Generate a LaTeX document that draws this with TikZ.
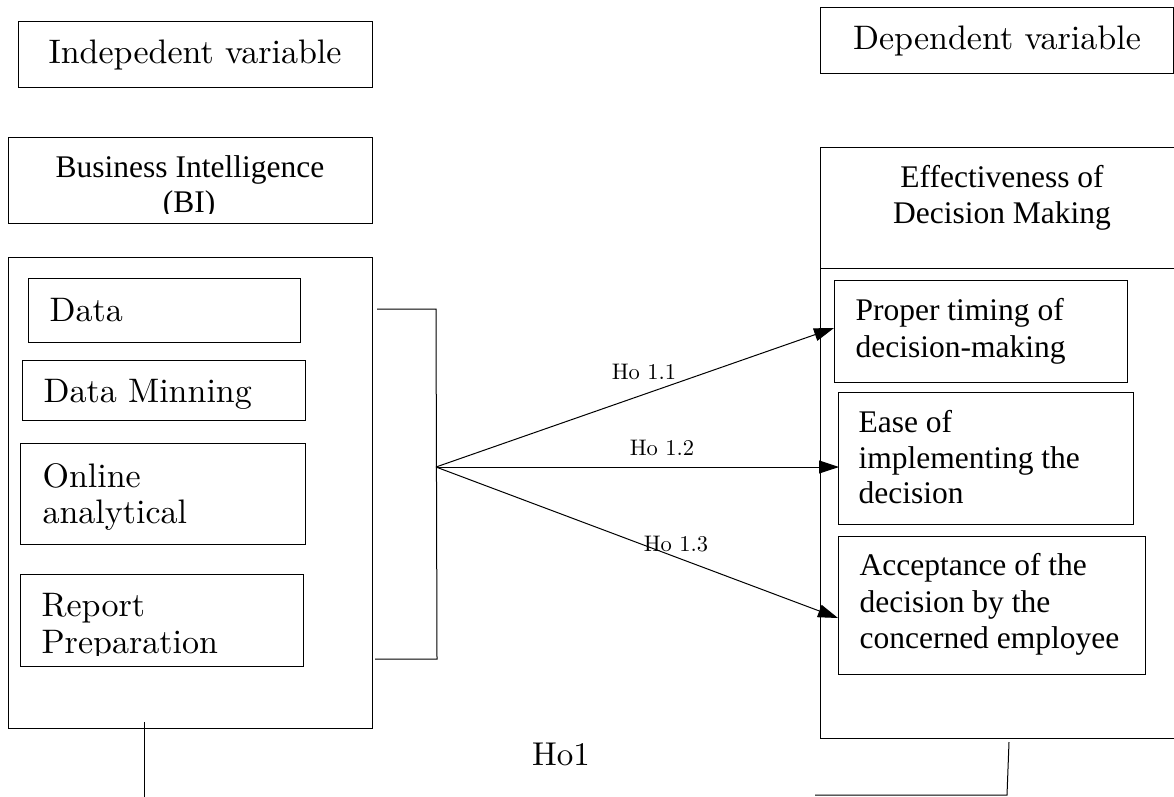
\documentclass[tikz,border=0pt]{standalone}
\usepackage{fontspec}
\newfontfamily\tms{Liberation Serif}
\newfontfamily\cen{lmroman10-regular.otf}
\usetikzlibrary{arrows.meta}
\begin{document}
\begin{tikzpicture}[x=1pt,y=-1pt, line width=1.1pt,
  box/.style={draw, inner sep=0pt, anchor=north west},
  cent/.style={font=\cen\fontsize{34}{35}\selectfont, inner sep=0pt},
  tim/.style={font=\tms\fontsize{31.5}{36}\selectfont, inner sep=0pt},
  lab/.style={font=\cen\fontsize{22.5}{24}\selectfont, inner sep=0pt},
  arr/.style={-{Triangle[length=20pt,width=13pt]}, line width=1pt},
  conn/.style={line width=1pt}]
\useasboundingbox (0,0) rectangle (1174,796);
% ---------- left side ----------
\node[box, minimum width=354pt, minimum height=66pt] (indep) at (18,21) {};
\node[cent, anchor=base] (indeptxt) at (195,63) {Indepedent variable};

\node[box, minimum width=364pt, minimum height=86pt] (bi) at (8,137) {};
\node[tim, anchor=base] (bitxt) at (190,177) {Business Intelligence};
\begin{scope}
  \clip (8,137) rectangle (372,213);
  \node[tim, anchor=base] (bitxt2) at (189,212) {(BI)};
\end{scope}

\node[box, minimum width=364pt, minimum height=471pt] (left) at (8,257) {};
\node[box, minimum width=272pt, minimum height=64pt] (data) at (28,278) {};
\node[cent, anchor=base west] (datatxt) at (49,321) {Data};
\node[box, minimum width=283pt, minimum height=60pt] (mining) at (22,360) {};
\node[cent, anchor=base west] (miningtxt) at (43,402) {Data Minning};
\node[box, minimum width=285pt, minimum height=101pt] (olap) at (20,443) {};
\node[cent, anchor=base west] (olaptxt1) at (42,487) {Online};
\node[cent, anchor=base west] (olaptxt2) at (42,523) {analytical};
\node[box, minimum width=283pt, minimum height=92pt] (report) at (20,574) {};
\node[cent, anchor=base west] (reporttxt1) at (41,616) {Report};
\begin{scope}
  \clip (20,574) rectangle (303,655);
  \node[cent, anchor=base west] (reporttxt2) at (41,653) {Preparation};
\end{scope}

% bracket
\coordinate (brA) at (377,309);
\coordinate (brB) at (436,309);
\coordinate (brC) at (437,659);
\coordinate (brD) at (375,659);
\coordinate (fan) at (436,467);
\draw[conn] (brA) -- (brB) -- (brC) -- (brD);

% ---------- right side ----------
\node[box, minimum width=353pt, minimum height=66pt] (dep) at (820,7) {};
\node[cent, anchor=base] (deptxt) at (997,49) {Dependent variable};

\node[box, minimum width=370pt, minimum height=121pt] (effhead) at (820,147) {};
\node[tim, anchor=base] (efftxt1) at (1002,187) {Effectiveness of};
\node[tim, anchor=base] (efftxt2) at (1002,223) {Decision Making};
\node[box, minimum width=370pt, minimum height=470pt] (effbody) at (820,268) {};

\node[box, minimum width=293pt, minimum height=102pt] (proper) at (834,280) {};
\node[tim, anchor=base west] (propertxt1) at (855,320) {Proper timing of};
\node[tim, anchor=base west] (propertxt2) at (855,357) {decision-making};

\node[box, minimum width=295pt, minimum height=132pt] (ease) at (838,392) {};
\node[tim, anchor=base west] (easetxt1) at (858,432) {Ease of};
\node[tim, anchor=base west] (easetxt2) at (858,468) {implementing the};
\node[tim, anchor=base west] (easetxt3) at (858,503) {decision};

\node[box, minimum width=307pt, minimum height=138pt] (accept) at (838,536) {};
\node[tim, anchor=base west] (accepttxt1) at (859,575) {Acceptance of the};
\node[tim, anchor=base west] (accepttxt2) at (859,612) {decision by the};
\node[tim, anchor=base west] (accepttxt3) at (859,648) {concerned employee};

% ---------- arrows ----------
\coordinate (t1) at (834,328);
\coordinate (t2) at (839,467);
\coordinate (t3) at (838,618);
\draw[arr] (fan) -- (t1);
\draw[arr] (fan) -- (t2);
\draw[arr] (fan) -- (t3);
\node[lab, anchor=base] (l1) at (644,379) {Ho 1.1};
\node[lab, anchor=base] (l2) at (662,455) {Ho 1.2};
\node[lab, anchor=base] (l3) at (676,551) {Ho 1.3};

\node[font=\cen\fontsize{33}{36}\selectfont, inner sep=0pt, anchor=base] (ho1) at (561,765) {Ho1};

% ---------- bottom connectors ----------
\coordinate (lb1) at (144,722);
\coordinate (lb2) at (144,800);
\draw[conn] (lb1) -- (lb2);
\coordinate (rb1) at (1009,742);
\coordinate (rb2) at (1007,795);
\coordinate (rb3) at (815,795);
\draw[conn] (rb1) -- (rb2) -- (rb3);
\end{tikzpicture}
\end{document}
